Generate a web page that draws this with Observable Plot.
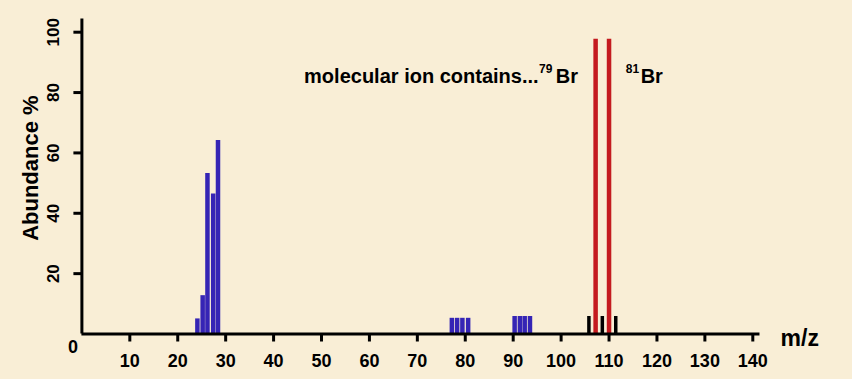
<!DOCTYPE html>
<html>
<head>
<meta charset="utf-8">
<script src="https://cdn.jsdelivr.net/npm/d3@7"></script>
<script src="https://cdn.jsdelivr.net/npm/@observablehq/plot@0.6"></script>
<style>
  html, body { margin: 0; padding: 0; background: #f9eed6; }
  #chart svg { display: block; }
</style>
</head>
<body>
<div id="chart"></div>
<script>
// m/z positions and abundances
const blueMz = [24.1, 25.2, 26.2, 27.4, 28.4, 77.2, 78.3, 79.4, 80.6, 90.3, 91.4, 92.4, 93.5];
const blueAb = [5.0, 12.7, 53.2, 46.4, 64.1, 5.2, 5.2, 5.2, 5.2, 5.8, 5.8, 5.8, 5.8];
const blackMz = [105.8, 108.6, 111.4];
const blackAb = [5.8, 5.8, 5.8];
const redMz = [107.2, 110.0];
const redAb = [97.7, 97.7];
const xTicks = [10, 20, 30, 40, 50, 60, 70, 80, 90, 100, 110, 120, 130, 140];
const yTicks = [20, 40, 60, 80, 100];

const toRows = (xs, ys) => xs.map((x, i) => ({mz: x, ab: ys[i]}));
const blue = toRows(blueMz, blueAb);
const black = toRows(blackMz, blackAb);
const red = toRows(redMz, redAb);

const font = "'Liberation Sans', Arial, Helvetica, sans-serif";

const chart = Plot.plot({
  width: 852,
  height: 379,
  marginLeft: 81.4,
  marginRight: 99.7,
  marginTop: 31.7,
  marginBottom: 45.5,
  style: {background: "transparent", fontFamily: font, color: "#000", overflow: "visible"},
  x: {domain: [0, 140]},
  y: {domain: [0, 100]},
  marks: [
    Plot.ruleX(blue, {x: "mz", y1: 0, y2: "ab", stroke: "#3524b5", strokeWidth: 4.5}),
    Plot.ruleX(black, {x: "mz", y1: 0, y2: "ab", stroke: "#000", strokeWidth: 3.5}),
    Plot.ruleX(red, {x: "mz", y1: 0, y2: "ab", stroke: "#c41a1f", strokeWidth: 4.5}),
    Plot.ruleY([0], {x1: 0, x2: 141.5, stroke: "#000", strokeWidth: 3}),
    Plot.ruleX([0], {y1: 0, y2: 104.4, stroke: "#000", strokeWidth: 3}),
    Plot.axisX({ticks: xTicks, tickSize: 8, tickPadding: 12, strokeWidth: 3, fontSize: 18, fontWeight: "bold", label: null}),
    Plot.axisY({ticks: yTicks, tickSize: 8, tickPadding: 15, tickRotate: -90, strokeWidth: 3, fontSize: 17, fontWeight: "bold", label: null}),
    Plot.text(["0"], {x: 0, y: 0, dx: -9, dy: 13, fontSize: 18, fontWeight: "bold"}),
    Plot.text(["Abundance %"], {frameAnchor: "left", textAnchor: "middle", rotate: -90, dx: -51, dy: -15, fontSize: 22, fontWeight: "bold"}),
    Plot.text(["m/z"], {x: 149.8, y: -1.5, fontSize: 23, fontWeight: "bold"}),
    Plot.text(["molecular ion contains..."], {x: 95.3, y: 85.3, textAnchor: "end", fontSize: 20, fontWeight: "bold"}),
    Plot.text(["79"], {x: 95.4, y: 87.6, textAnchor: "start", fontSize: 12, fontWeight: "bold"}),
    Plot.text(["Br"], {x: 98.9, y: 85.3, textAnchor: "start", fontSize: 20, fontWeight: "bold"}),
    Plot.text(["81"], {x: 113.5, y: 87.6, textAnchor: "start", fontSize: 12, fontWeight: "bold"}),
    Plot.text(["Br"], {x: 116.6, y: 85.3, textAnchor: "start", fontSize: 20, fontWeight: "bold"})
  ]
});
document.getElementById("chart").appendChild(chart);
</script>
</body>
</html>
